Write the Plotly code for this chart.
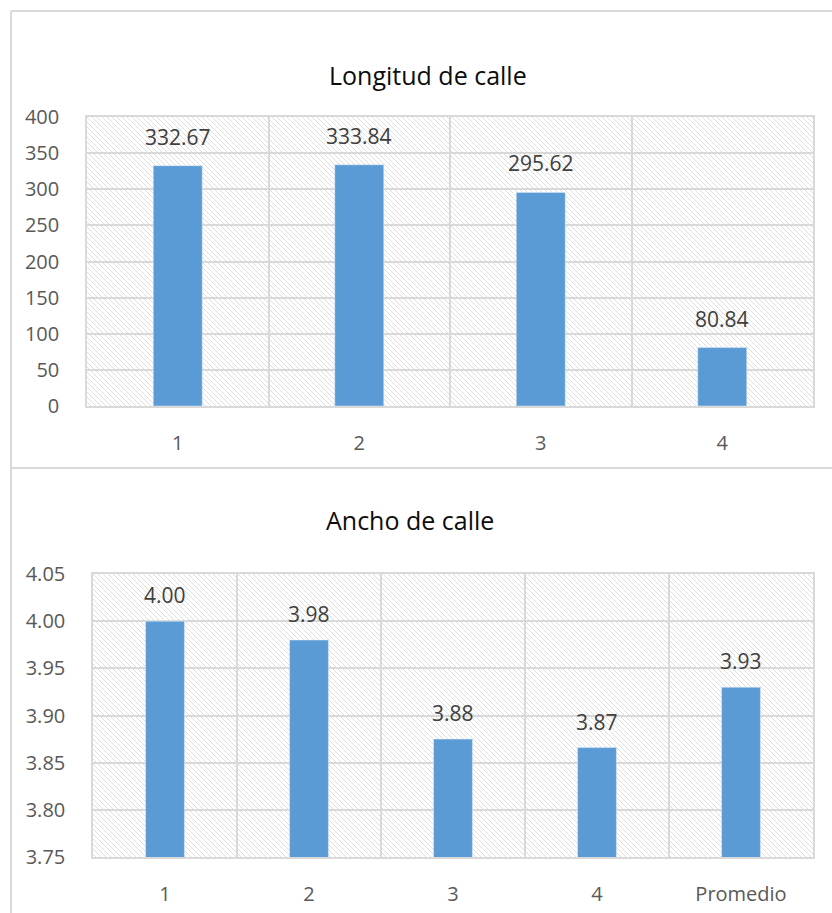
import base64
import plotly.graph_objects as go

# data
cats_top = ["1", "2", "3", "4"]
vals_top = [332.67, 333.84, 295.62, 80.84]
cats_bot = ["1", "2", "3", "4", "Promedio"]
vals_bot = [4.00, 3.98, 3.875, 3.866, 3.93]

W, H = 832, 913
BAR = "#5B9BD5"
GRID = "#d9d9d9"
TXT = "#595959"
FONT = "Open Sans"


def px_x(p):
    return p / W


def px_y(p):
    return 1 - p / H


# hatched background tile
def hatch_svg(w, h):
    svg = (
        f'<svg xmlns="http://www.w3.org/2000/svg" width="{w}" height="{h}">'
        '<defs><pattern id="p" width="5" height="5" patternUnits="userSpaceOnUse">'
        '<path d="M-1,-1 L6,6 M-1,4 L1,6 M4,-1 L6,1" stroke="#dedede" stroke-width="1"/>'
        '</pattern></defs><rect width="100%" height="100%" fill="white"/>'
        '<rect width="100%" height="100%" fill="url(#p)"/></svg>'
    )
    return "data:image/svg+xml;base64," + base64.b64encode(svg.encode()).decode()


top_dom_x = [px_x(87), px_x(813)]
top_dom_y = [px_y(406), px_y(117)]
bot_dom_x = [px_x(93), px_x(813)]
bot_dom_y = [px_y(857), px_y(574)]

fig = go.Figure()
fig.add_trace(go.Bar(x=list(range(len(cats_top))), y=vals_top, width=0.27,
                     marker_color=BAR, xaxis="x", yaxis="y", hoverinfo="skip"))
fig.add_trace(go.Bar(x=list(range(len(cats_bot))), y=vals_bot, width=0.27,
                     marker_color=BAR, xaxis="x2", yaxis="y2", hoverinfo="skip"))

annotations = []
for i, v in enumerate(vals_top):
    annotations.append(dict(x=i, y=v, xref="x", yref="y", text=f"{v:.2f}", showarrow=False,
                            yanchor="bottom", yshift=13, font=dict(size=21, color="#404040", family=FONT)))
for i, v in enumerate(vals_bot):
    annotations.append(dict(x=i, y=v, xref="x2", yref="y2", text=f"{v:.2f}", showarrow=False,
                            yanchor="bottom", yshift=10, font=dict(size=21, color="#404040", family=FONT)))
annotations.append(dict(x=px_x(428), y=px_y(75), xref="paper", yref="paper", text="Longitud de calle",
                        showarrow=False, xanchor="center", yanchor="middle",
                        font=dict(size=25, color="#0d0d0d", family=FONT)))
annotations.append(dict(x=px_x(410), y=px_y(520), xref="paper", yref="paper", text="Ancho de calle",
                        showarrow=False, xanchor="center", yanchor="middle",
                        font=dict(size=25, color="#0d0d0d", family=FONT)))

tickfont = dict(size=20, color=TXT, family=FONT)


def xaxis(dom, cats, anchor):
    n = len(cats)
    return dict(domain=dom, anchor=anchor, range=[-0.5, n - 0.5], tickvals=list(range(n)), ticktext=cats,
                showgrid=False, zeroline=False, showline=True, mirror=True, linecolor=GRID, linewidth=1.5,
                ticks="", ticklabelstandoff=18, tickfont=tickfont, automargin=False,
                minor=dict(tickmode="array", tickvals=[i + 0.5 for i in range(n - 1)], showgrid=True,
                           gridcolor=GRID, gridwidth=1.5, ticks=""))


def yaxis(dom, rng, dt, fmt, anchor):
    return dict(domain=dom, anchor=anchor, range=rng, dtick=dt, tick0=rng[0], tickformat=fmt,
                showgrid=True, gridcolor=GRID, gridwidth=1.5, zeroline=False, showline=True, mirror=True,
                linecolor=GRID, linewidth=1.5, ticks="", ticklabelstandoff=22, tickfont=tickfont,
                automargin=False)


fig.update_layout(
    width=W, height=H, margin=dict(l=0, r=0, t=0, b=0, autoexpand=False),
    paper_bgcolor="white", plot_bgcolor="rgba(0,0,0,0)", showlegend=False,
    xaxis=xaxis(top_dom_x, cats_top, "y"),
    yaxis=yaxis(top_dom_y, [0, 400], 50, "d", "x"),
    xaxis2=xaxis(bot_dom_x, cats_bot, "y2"),
    yaxis2=yaxis(bot_dom_y, [3.75, 4.05], 0.05, ".2f", "x2"),
    annotations=annotations,
    images=[
        dict(source=hatch_svg(726, 289), xref="paper", yref="paper", x=top_dom_x[0], y=top_dom_y[1],
             sizex=top_dom_x[1] - top_dom_x[0], sizey=top_dom_y[1] - top_dom_y[0],
             xanchor="left", yanchor="top", sizing="stretch", layer="below"),
        dict(source=hatch_svg(720, 283), xref="paper", yref="paper", x=bot_dom_x[0], y=bot_dom_y[1],
             sizex=bot_dom_x[1] - bot_dom_x[0], sizey=bot_dom_y[1] - bot_dom_y[0],
             xanchor="left", yanchor="top", sizing="stretch", layer="below"),
    ],
    shapes=[
        dict(type="line", xref="paper", yref="paper", x0=px_x(11), x1=px_x(11), y0=0, y1=px_y(11),
             line=dict(color=GRID, width=2)),
        dict(type="line", xref="paper", yref="paper", x0=px_x(11), x1=1, y0=px_y(11), y1=px_y(11),
             line=dict(color=GRID, width=2)),
        dict(type="line", xref="paper", yref="paper", x0=px_x(11), x1=1, y0=px_y(468), y1=px_y(468),
             line=dict(color=GRID, width=2)),
    ],
)

fig.write_html("out.html", config={"displayModeBar": False},
               post_script="document.body.style.margin='0';")
